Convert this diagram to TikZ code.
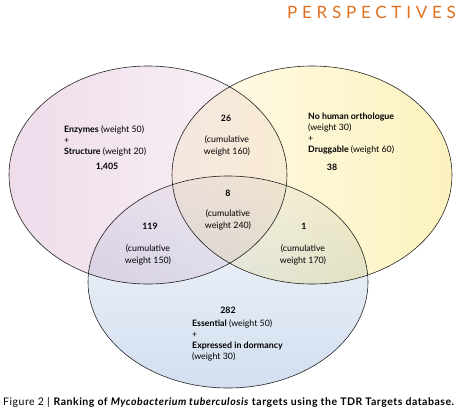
\documentclass[tikz,border=0pt]{standalone}
\usepackage{fontspec}
\setmainfont{Lato}
\newfontfamily\headfont[LetterSpace=28]{Lato}
\newfontfamily\capfont[LetterSpace=5]{Lato}
\usetikzlibrary{shapes.geometric}
\definecolor{persporange}{RGB}{224,112,32}
\definecolor{pinkdeep}{RGB}{238,220,234}
\definecolor{pinklight}{RGB}{250,244,248}
\definecolor{yellowdeep}{RGB}{252,242,190}
\definecolor{yellowlight}{RGB}{255,251,236}
\definecolor{bluedeep}{RGB}{210,223,240}
\definecolor{bluelight}{RGB}{246,247,250}

\begin{document}
\begin{tikzpicture}[
    x=1pt, y=-1pt,
    venn/.style={ellipse, draw=black!85, line width=0.6pt, inner sep=0pt, minimum width=278pt, minimum height=218pt},
    lbl/.style={font=\fontsize{8.8}{11}\selectfont, align=left, inner sep=0pt, anchor=north west},
    cum/.style={font=\fontsize{8.8}{11.5}\selectfont, align=center, inner sep=0pt},
    num/.style={font=\fontsize{8.8}{11}\selectfont\bfseries, inner sep=0pt}
]
\useasboundingbox (0,0) rectangle (463,416);

% Venn ellipses
\begin{scope}[blend mode=multiply]
\node[venn, left color=pinkdeep, right color=pinklight] (enzymes) at (148,175) {};
\node[venn, left color=yellowlight, right color=yellowdeep, minimum width=280pt] (druggable) at (312,175) {};
\node[venn, top color=bluelight, bottom color=bluedeep, minimum width=280pt, minimum height=212pt] (essential) at (228,282) {};
\end{scope}

% Single sets
\node[lbl] (enzlbl) at (64,125) {\textbf{Enzymes} (weight 50)\\+\\\textbf{Structure} (weight 20)};
\node[num] (enznum) at (107,167) {1,405};
\node[lbl] (druglbl) at (308,113) {\textbf{No human orthologue}\\(weight 30)\\+\\\textbf{Druggable} (weight 60)};
\node[num] (drugnum) at (332,167) {38};
\node[num] (essnum) at (228,310) {282};
\node[lbl] (esslbl) at (192,319) {\textbf{Essential} (weight 50)\\+\\\textbf{Expressed in dormancy}\\(weight 30)};

% Overlaps
\node[num] (topnum) at (226,118) {26};
\node[cum] (topcum) at (227,146) {(cumulative\\weight 160)};
\node[num] (midnum) at (228,193) {8};
\node[cum] (midcum) at (228,220) {(cumulative\\weight 240)};
\node[num] (leftnum) at (150,226) {119};
\node[cum] (leftcum) at (148,255) {(cumulative\\weight 150)};
\node[num] (rightnum) at (304,226) {1};
\node[cum] (rightcum) at (303,255) {(cumulative\\weight 170)};

% Heading and caption
\node[anchor=east, inner sep=0pt, text=persporange, font=\headfont\fontsize{17}{17}\selectfont] (heading) at (456,12) {PERSPECTIVES};
\node[anchor=west, inner sep=0pt, font=\capfont\fontsize{10.5}{12}\selectfont] (caption) at (3,402)
  {Figure 2 | \textbf{Ranking of \textit{Mycobacterium tuberculosis} targets using the TDR Targets database.}};
\end{tikzpicture}
\end{document}
